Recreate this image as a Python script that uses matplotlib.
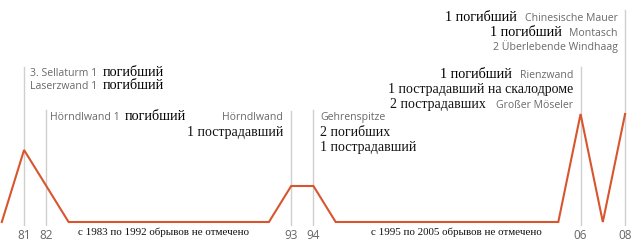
import matplotlib
matplotlib.use("Agg")
import matplotlib.pyplot as plt
from matplotlib.transforms import IdentityTransform

# ---------------- data ----------------
years = [1980, 1981, 1982, 1983, 1992, 1993, 1994, 1995, 2005, 2006, 2007, 2008]
incidents = [0, 2, 1, 0, 0, 1, 1, 0, 0, 3, 0, 3]
event_years = [1981, 1982, 1993, 1994, 2006, 2008]
tick_labels = ["81", "82", "93", "94", "06", "08"]
gap_notes = ["с 1983 по 1992 обрывов не отмечено",
             "с 1995 по 2005 обрывов не отмечено"]

# ---------------- figure ----------------
W, H = 640, 245
fig = plt.figure(figsize=(W / 100, H / 100), dpi=100)
fig.patch.set_facecolor("white")

ax_bottom_px = 226
ax = fig.add_axes([0, (H - ax_bottom_px) / H, 1, ax_bottom_px / H])
ax.set_facecolor("none")

unit_px = 36.0
base_px = 222.0
x0_px, step_px = 1.8, 22.26
ax.set_xlim(1980 - x0_px / step_px, 1980 + (W - x0_px) / step_px)
ax.set_ylim((base_px - ax_bottom_px) / unit_px, base_px / unit_px)

for s in ax.spines.values():
    s.set_visible(False)

line_tops_px = [67, 110, 111, 110, 67, 10]
for yr, top in zip(event_years, line_tops_px):
    ax.axvline(yr, ymin=0, ymax=1 - top / ax_bottom_px, color="#cfcfcf", lw=1, zorder=1)

ax.plot(years, incidents, color="#d9552e", lw=1.5, zorder=3, solid_joinstyle="miter")

ax.set_yticks([])
ax.set_xticks(event_years)
ax.set_xticklabels(tick_labels, fontfamily="Open Sans", fontsize=8.5, color="#666666")
ax.tick_params(axis="x", length=0, pad=2)

# ---------------- text ----------------
styles = {
    "g": dict(family="Open Sans", size=7.6, color="#6a6a6a"),
    "s": dict(family="Liberation Serif", size=10, color="#111111"),
    "b": dict(family="Liberation Serif", size=10.2, color="#000000"),
    "n": dict(family="Liberation Serif", size=7.9, color="#111111"),
}

fig.canvas.draw()
renderer = fig.canvas.get_renderer()


def place(runs, x, y_top, align="left", gap=4):
    """runs: list of (text, style); y_top: baseline pixel row from top."""
    y = H - y_top
    objs = []
    for txt, st in runs:
        t = fig.text(0, y, txt, transform=IdentityTransform(), ha="left",
                     va="baseline", **styles[st])
        objs.append(t)
    widths = [t.get_window_extent(renderer).width for t in objs]
    total = sum(widths) + gap * (len(objs) - 1)
    cx = x if align == "left" else (x - total if align == "right" else x - total / 2)
    for t, w in zip(objs, widths):
        t.set_position((cx, y))
        cx += w + gap


place([("3. Sellaturm 1", "g"), ("погибший", "b")], 30, 76, gap=5)
place([("Laserzwand 1", "g"), ("погибший", "b")], 30, 89, gap=5)
place([("Hörndlwand 1", "g"), ("погибший", "b")], 50, 120, gap=5)
place([("Hörndlwand", "g")], 283, 120, "right")
place([("1 пострадавший", "s")], 283, 136, "right")
place([("Gehrenspitze", "g")], 320, 120)
place([("2 погибших", "s")], 320, 136)
place([("1 пострадавший", "s")], 320, 151)

place([("1 погибший", "b"), ("Chinesische Mauer", "g")], 618, 21, "right", gap=8)
place([("1 погибший", "b"), ("Montasch", "g")], 618, 36, "right", gap=8)
place([("2 Überlebende Windhaag", "g")], 618, 50, "right")
place([("1 погибший", "b"), ("Rienzwand", "g")], 573, 78, "right", gap=8)
place([("1 пострадавший на скалодроме", "s")], 573, 93, "right")
place([("2 пострадавших", "s"), ("Großer Möseler", "g")], 573, 108, "right", gap=10)

place([(gap_notes[0], "n")], 164, 235, "center")
place([(gap_notes[1], "n")], 456, 235, "center")

fig.savefig("out.png", dpi=100, facecolor="white")
